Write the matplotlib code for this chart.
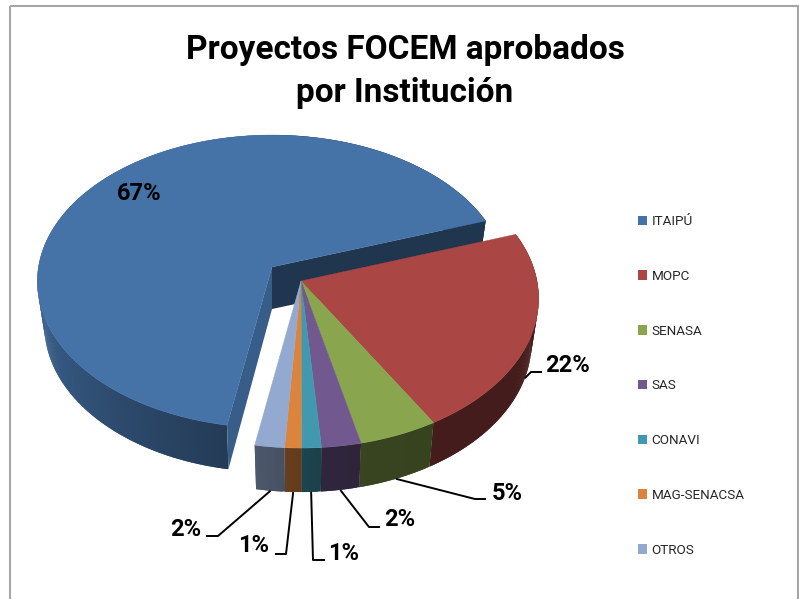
"""Exploded 3D pie, FOCEM projects by institution. Pixel-space axes."""
import matplotlib
matplotlib.use("Agg")
import matplotlib.pyplot as plt
import numpy as np
from matplotlib.collections import PolyCollection
from matplotlib.colors import to_rgb
from matplotlib.patches import Polygon, Rectangle

TITLE = "Proyectos FOCEM aprobados\npor Institución"
INSTITUTIONS = ["ITAIPÚ", "MOPC", "SENASA", "SAS", "CONAVI", "MAG-SENACSA", "OTROS"]
SHARES = [66.9, 21.9, 4.8, 2.4, 1.2, 1.0, 1.8]
COLORS = ["#4572a7", "#aa4643", "#89a54e", "#71588f", "#4198af", "#db843d", "#93a9cf"]

plt.rcParams["font.family"] = ["Roboto", "DejaVu Sans"]

W, H = 799, 599
START = 190.0      # degrees clockwise from the top
DEPTH, SHRINK = 44, 0.97
# apex x, apex y, x radius, y radius, perspective: the pulled-out slice sits further back
MAIN = (272, 267, 233.5, 145, 0.099)
REST = (301, 281, 236, 147.5, 0.117)

# elbow and label position per slice, None for a label sitting on the slice
ELBOWS = [None, [(531, 372), (542, 372)], [(475, 499), (486, 499)],
          [(369, 527), (380, 527)], [(313, 560), (325, 560)],
          [(286, 554), (275, 554)], [(218, 536), (206, 536)]]
LABEL_XY = [(139, 194), (568, 365), (507, 493), (400, 520), (344, 553),
            (254, 546), (186, 529)]


def top_xy(angle, g):
    a = np.radians(angle)
    x, y = np.sin(a), -np.cos(a)
    w = 1 - g[4] * y
    return g[0] + g[2] * x / w, g[1] + g[3] * y / w


def low_xy(angle, g):
    x, y = top_xy(angle, g)
    return g[0] + (x - g[0]) * SHRINK, y + DEPTH


def shade(color, f):
    return tuple(c * f for c in to_rgb(color))


def wall_factor(angle):
    return np.interp(angle % 360, [0, 150, 175, 190, 270, 360],
                     [0.4, 0.4, 0.42, 0.52, 0.9, 0.9])


fig = plt.figure(figsize=(W / 100, H / 100), dpi=100)
ax = fig.add_axes([0, 0, 1, 1])
ax.set_xlim(0, W)
ax.set_ylim(H, 0)
ax.axis("off")

ax.add_patch(Rectangle((9.5, 5.5), W - 11, H + 20, fill=False, ec="#a6a6a6", lw=1.5))

edges = START + np.cumsum([0] + SHARES) * 360 / sum(SHARES)
for i, (a0, a1) in enumerate(zip(edges[:-1], edges[1:])):
    g = MAIN if i == 0 else REST
    apex = g[:2]
    col = COLORS[i]
    ang = np.linspace(a0, a1, max(int(a1 - a0) * 2, 8))
    low_apex = (apex[0], apex[1] + DEPTH - 2)
    quads, cols = [], []
    for j in range(len(ang) - 1):
        # each strip runs on under the next one, so no seams show
        b0, b1 = ang[j], ang[min(j + 2, len(ang) - 1)]
        quads.append([top_xy(b0, g), top_xy(b1, g), low_xy(b1, g), low_xy(b0, g)])
        cols.append(shade(col, wall_factor((ang[j] + ang[j + 1]) / 2)))
    ax.add_collection(PolyCollection(quads, facecolors=cols, edgecolors="none",
                                     zorder=2 + i * 2))
    if i == 0:
        # the two cut faces show because this slice is pulled out
        ax.add_patch(Polygon([apex, top_xy(a1, g), low_xy(a1, g), low_apex],
                             fc=shade(col, 0.47), ec="none", zorder=2.5))
        ax.add_patch(Polygon([apex, top_xy(a0, g), low_xy(a0, g), low_apex],
                             fc=shade(col, 0.82), ec="none", zorder=2.5))
    ax.add_patch(Polygon([apex] + [top_xy(b, g) for b in ang], fc=col, ec=col,
                         lw=0.3, zorder=3 + i * 2))

    pct = f"{SHARES[i]:.0f}%"
    ax.text(*LABEL_XY[i], pct, ha="center", va="center", fontsize=17,
            fontweight="bold", color="black", zorder=30)
    if ELBOWS[i] is not None:
        pts = [low_xy((a0 + a1) / 2, g)] + ELBOWS[i]
        ax.plot(*zip(*pts), color="black", lw=1.4, zorder=29, solid_capstyle="butt")

ax.text(405, 71.5, TITLE, ha="center", va="center", fontsize=24, fontweight="bold",
        color="black", linespacing=1.43)

handles = [Rectangle((0, 0), 1, 1, fc=c, ec="none") for c in COLORS]
ax.legend(handles, INSTITUTIONS, loc="upper left", bbox_to_anchor=(638 / W, 1 - 215 / H),
          frameon=False, fontsize=9.7, handlelength=0.7, handleheight=0.7, handletextpad=0.3,
          labelspacing=3.1, borderpad=0, borderaxespad=0, labelcolor="#262626")

fig.savefig("out.png", dpi=100)
